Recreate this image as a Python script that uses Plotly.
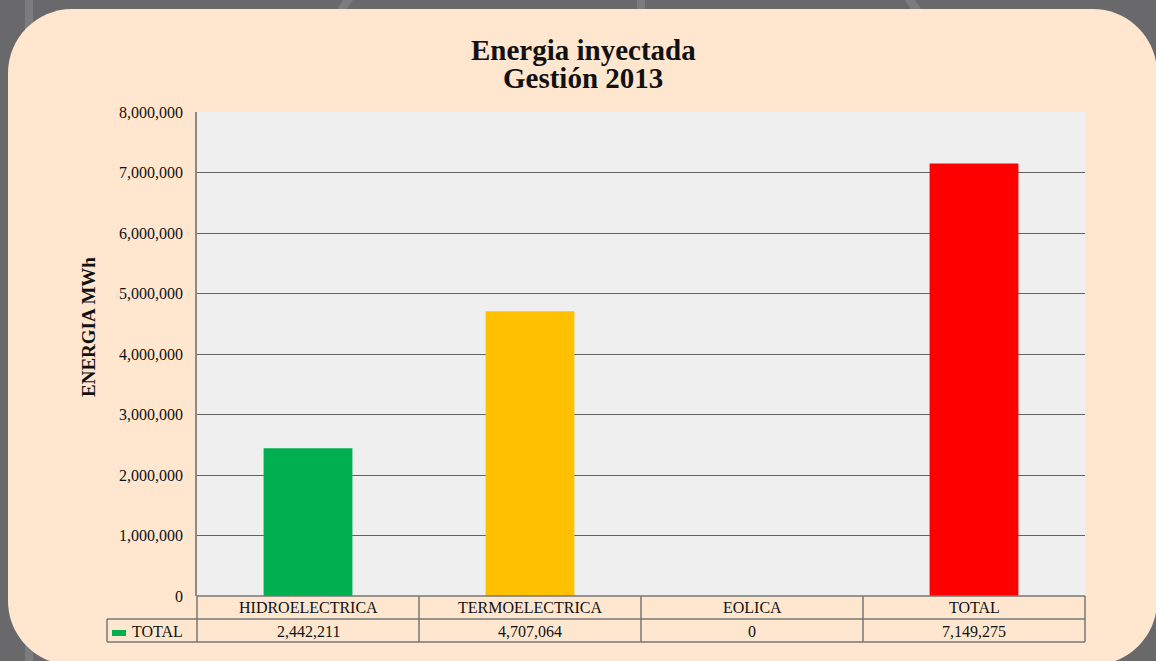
import plotly.graph_objects as go

categories = ["HIDROELECTRICA", "TERMOELECTRICA", "EOLICA", "TOTAL"]
values = [2442211, 4707064, 0, 7149275]
bar_colors = ["#00B050", "#FFC000", "#7F7F7F", "#FF0000"]
y_ticks = [0, 1000000, 2000000, 3000000, 4000000, 5000000, 6000000, 7000000, 8000000]
series_name = "TOTAL"
title_lines = ["Energia inyectada", "Gestión 2013"]
y_title = "ENERGIA MWh"

W, H = 1156, 661
FONT = "Liberation Serif"


def px(x):
    return x / W


def py(y):
    return 1 - y / H


fig = go.Figure()
fig.add_trace(go.Bar(
    x=categories, y=values, marker=dict(color=bar_colors, line=dict(width=0)),
    name=series_name, showlegend=False, hoverinfo="x+y",
))

PL, PR, PT, PB = 197, 1085, 112, 596

shapes = []
# background decorations
deco = "#7c7c7e"
shapes.append(dict(type="rect", xref="paper", yref="paper", x0=px(25), x1=px(33), y0=0, y1=1,
                   fillcolor=deco, line=dict(width=0), layer="below"))
shapes.append(dict(type="rect", xref="paper", yref="paper", x0=px(637), x1=px(645), y0=0, y1=1,
                   fillcolor=deco, line=dict(width=0), layer="below"))
for (xa, xb) in [((343, 353), (335, 345)), ((905, 915), (913, 923))]:
    shapes.append(dict(type="path", xref="paper", yref="paper",
                       path=f"M {px(xa[1])},{py(0)} L {px(xa[0])},{py(0)} L {px(xb[0])},{py(12)} L {px(xb[1])},{py(12)} Z",
                       fillcolor=deco, line=dict(width=0), layer="below"))

# rounded panel
x0, x1, y0, y1, r = 8, 1157, 9, 665, 64
k = 0.55 * r
pts = [
    f"M {px(x0 + r)},{py(y0)}",
    f"L {px(x1 - r)},{py(y0)}",
    f"C {px(x1 - r + k)},{py(y0)} {px(x1)},{py(y0 + r - k)} {px(x1)},{py(y0 + r)}",
    f"L {px(x1)},{py(y1 - r)}",
    f"C {px(x1)},{py(y1 - r + k)} {px(x1 - r + k)},{py(y1)} {px(x1 - r)},{py(y1)}",
    f"L {px(x0 + r)},{py(y1)}",
    f"C {px(x0 + r - k)},{py(y1)} {px(x0)},{py(y1 - r + k)} {px(x0)},{py(y1 - r)}",
    f"L {px(x0)},{py(y0 + r)}",
    f"C {px(x0)},{py(y0 + r - k)} {px(x0 + r - k)},{py(y0)} {px(x0 + r)},{py(y0)} Z",
]
shapes.append(dict(type="path", xref="paper", yref="paper", path=" ".join(pts),
                   fillcolor="#FEE6CF", line=dict(width=0), layer="below"))
# plot area background
shapes.append(dict(type="rect", xref="paper", yref="paper", x0=px(PL), x1=px(PR), y0=py(PB), y1=py(PT),
                   fillcolor="#EFEFEF", line=dict(width=0), layer="below"))

# data table lines
tc = "#777777"
lw = 1.5
cols = [197, 419, 641, 863, 1085]
shapes.append(dict(type="line", xref="paper", yref="paper", x0=px(PL), x1=px(PR), y0=py(596), y1=py(596),
                   line=dict(color=tc, width=lw)))
shapes.append(dict(type="line", xref="paper", yref="paper", x0=px(107), x1=px(PR), y0=py(619), y1=py(619),
                   line=dict(color=tc, width=lw)))
shapes.append(dict(type="line", xref="paper", yref="paper", x0=px(107), x1=px(PR), y0=py(642), y1=py(642),
                   line=dict(color=tc, width=lw)))
shapes.append(dict(type="line", xref="paper", yref="paper", x0=px(107), x1=px(107), y0=py(619), y1=py(642),
                   line=dict(color=tc, width=lw)))
for c in cols:
    shapes.append(dict(type="line", xref="paper", yref="paper", x0=px(c), x1=px(c), y0=py(596), y1=py(642),
                       line=dict(color=tc, width=lw)))
# legend swatch
shapes.append(dict(type="rect", xref="paper", yref="paper", x0=px(112), x1=px(126), y0=py(636), y1=py(630),
                   fillcolor=bar_colors[0], line=dict(width=0)))

TF = dict(family=FONT, size=16, color="#111")
annotations = []
for cat, v in zip(categories, values):
    annotations.append(dict(x=cat, xref="x", y=py(607.5), yref="paper", text=cat, showarrow=False,
                            xanchor="center", yanchor="middle", font=TF))
    annotations.append(dict(x=cat, xref="x", y=py(631), yref="paper", text=f"{v:,}", showarrow=False,
                            xanchor="center", yanchor="middle", font=TF))
annotations.append(dict(x=px(130), xref="paper", y=py(631), yref="paper", text=series_name, showarrow=False,
                        xanchor="left", yanchor="middle", font=TF))
annotations.append(dict(x=px(89), xref="paper", y=py(327), yref="paper", text=f"<b>{y_title}</b>", showarrow=False,
                        textangle=-90, xanchor="center", yanchor="middle",
                        font=dict(family=FONT, size=19, color="#111")))
for i, (line, yc) in enumerate(zip(title_lines, [50, 78])):
    annotations.append(dict(x=0.5045, xref="paper", y=py(yc), yref="paper", text=f"<b>{line}</b>", showarrow=False,
                            xanchor="center", yanchor="middle",
                            font=dict(family=FONT, size=29, color="#111")))

fig.update_layout(
    width=W, height=H,
    margin=dict(l=0, r=0, t=0, b=0),
    paper_bgcolor="#69696b",
    plot_bgcolor="#EFEFEF",
    bargap=0.6,
    shapes=shapes,
    annotations=annotations,
    showlegend=False,
    xaxis=dict(type="category", domain=[px(PL), px(PR)], range=[-0.5, 3.5], showticklabels=False,
               showgrid=False, zeroline=False, showline=False, automargin=False, fixedrange=True),
    yaxis=dict(domain=[py(PB), py(PT)], range=[0, 8000000], tickvals=y_ticks, tickformat=",",
               showgrid=True, gridcolor="#636363", gridwidth=1, zeroline=False,
               showline=True, linecolor="#8a8a8a", linewidth=1.5, ticks="", ticklabelstandoff=9,
               tickfont=dict(family=FONT, size=16, color="#111"), automargin=False, fixedrange=True),
)

fig.write_html("out.html", config={"displayModeBar": False},
               post_script="document.body.style.margin='0px';document.body.style.overflow='hidden';")
